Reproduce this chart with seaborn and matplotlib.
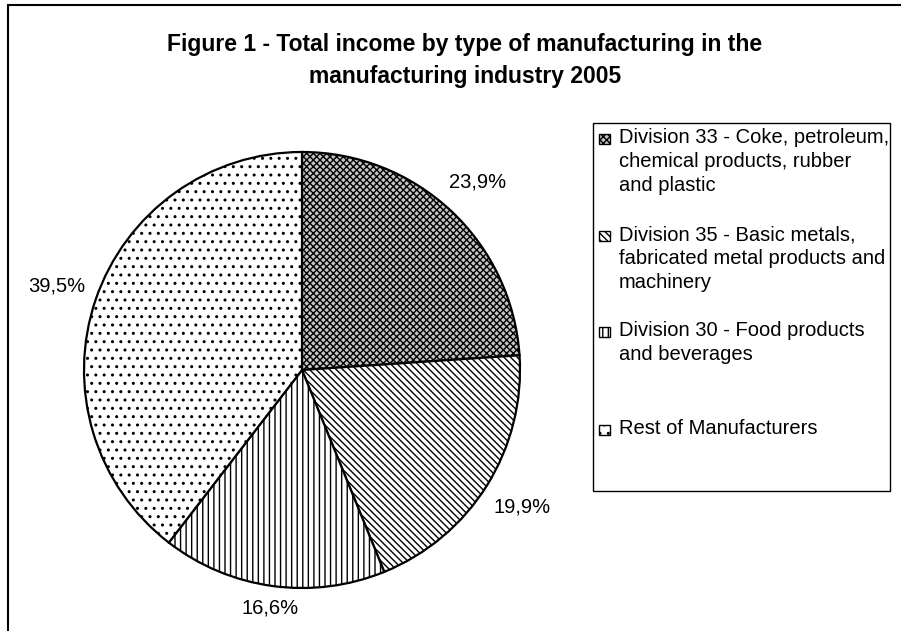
import numpy as np
import matplotlib
matplotlib.use("Agg")
import matplotlib.pyplot as plt
import seaborn as sns
from matplotlib.patches import Rectangle

# data
categories = [
    "Division 33 - Coke, petroleum,\nchemical products, rubber\nand plastic",
    "Division 35 - Basic metals,\nfabricated metal products and\nmachinery",
    "Division 30 - Food products\nand beverages",
    "Rest of Manufacturers",
]
shares = [23.9, 19.9, 16.6, 39.5]

# styling per slice
face_colors = ["#c4c4c4", "white", "white", "white"]
hatches = ["xxxxx", "\\\\\\\\\\", "|||", ".."]
label_dist = [1.18, 1.19, 1.10, 1.19]

sns.set_theme(style="white")
plt.rcParams["font.family"] = ["Liberation Sans", "DejaVu Sans"]
plt.rcParams["hatch.linewidth"] = 1.0
plt.rcParams["text.color"] = "black"

W, H = 901, 631
fig = plt.figure(figsize=(W / 100, H / 100), dpi=100)
fig.patch.set_facecolor("white")

def fx(px):
    return px / W

def fy(py):
    return 1 - py / H

# chart area border (right/bottom run off the image)
fig.patches.append(Rectangle((fx(8), fy(H + 20)), 2, fy(5) - fy(H + 20),
                             transform=fig.transFigure, fill=False,
                             edgecolor="black", linewidth=1.5))

# pie axes
cx, cy, R = 302, 370, 218
lim = 1.01
ax = fig.add_axes([fx(cx - R * lim), fy(cy + R * lim), 2 * R * lim / W, 2 * R * lim / H])
wedges, _ = ax.pie(shares, startangle=90, counterclock=False,
                   colors=face_colors,
                   wedgeprops=dict(edgecolor="black", linewidth=1.6))
for w, h in zip(wedges, hatches):
    w.set_hatch(h)
ax.set_xlim(-lim, lim)
ax.set_ylim(-lim, lim)
ax.set_aspect("equal")
ax.axis("off")

for w, val, d in zip(wedges, shares, label_dist):
    ang = np.deg2rad((w.theta1 + w.theta2) / 2)
    ax.text(d * np.cos(ang), d * np.sin(ang), f"{val:.1f}".replace(".", ",") + "%",
            ha="center", va="center", fontsize=14.5, color="black")

# title
fig.text(fx(465), fy(60), "Figure 1 - Total income by type of manufacturing in the\nmanufacturing industry 2005",
         ha="center", va="center", fontsize=16.5, fontweight="bold", linespacing=1.5,
         color="black")

# legend box
fig.patches.append(Rectangle((fx(593), fy(491)), fx(890) - fx(593), fy(123) - fy(491),
                             transform=fig.transFigure, fill=False,
                             edgecolor="black", linewidth=1.0))
entry_y = [139, 236, 332, 430]
for lab, fc, h, y in zip(categories, face_colors, hatches, entry_y):
    fig.patches.append(Rectangle((fx(599), fy(y + 5)), fx(610) - fx(599), fy(y - 5) - fy(y + 5),
                                 transform=fig.transFigure, facecolor=fc, hatch=h,
                                 edgecolor="black", linewidth=1.0))
    fig.text(fx(619), fy(y - 11), lab, ha="left", va="top", fontsize=14.5,
             linespacing=1.32, color="black")

fig.savefig("out.png", dpi=100)
